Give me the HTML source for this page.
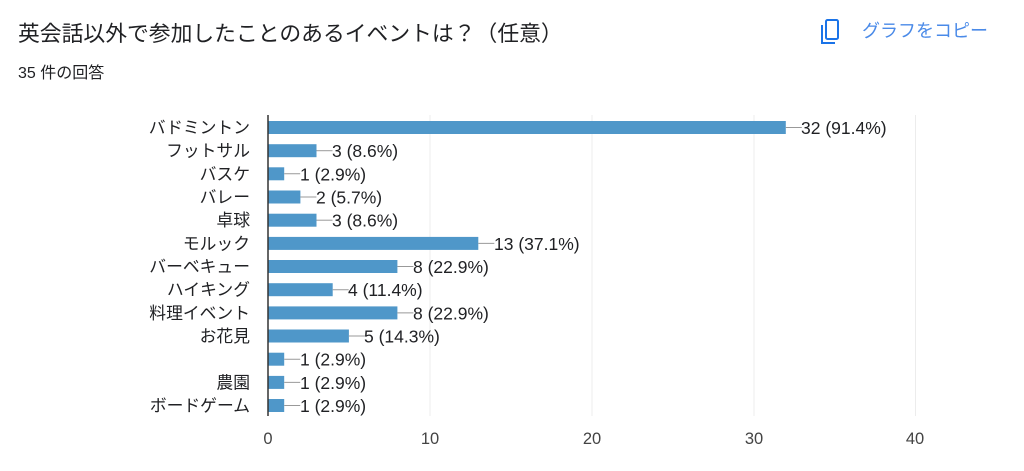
<!DOCTYPE html>
<html><head><meta charset="utf-8"><style>
body{margin:0;background:#fff;width:1024px;height:466px;overflow:hidden;font-family:"Liberation Sans","Noto Sans CJK JP",sans-serif}
</style></head><body>
<svg width="1024" height="466" xmlns="http://www.w3.org/2000/svg" font-family="Liberation Sans, Noto Sans CJK JP, sans-serif">
<text x="18" y="41" font-size="21.8" fill="#202124">英会話以外で参加したことのあるイベントは？（任意）</text>
<text x="18" y="78" font-size="16" fill="#202124">35 件の回答</text>
<g fill="none" stroke="#1a73e8" stroke-width="2"><rect x="826" y="20" width="12" height="19" rx="1.5"/><path d="M822 25 v18 h13"/></g>
<text x="862" y="37" font-size="18" fill="#4a8ae8">グラフをコピー</text>
<g stroke="#ececec" stroke-width="1">
<line x1="430" y1="115" x2="430" y2="416"/><line x1="592" y1="115" x2="592" y2="416"/><line x1="754" y1="115" x2="754" y2="416"/><line x1="915.5" y1="115" x2="915.5" y2="416"/>
</g>
<g font-size="16.8" fill="#202124" text-anchor="end">
<text x="250" y="133.5">バドミントン</text>
<text x="250" y="156.7">フットサル</text>
<text x="250" y="179.8">バスケ</text>
<text x="250" y="203">バレー</text>
<text x="250" y="226.2">卓球</text>
<text x="250" y="249.4">モルック</text>
<text x="250" y="272.5">バーベキュー</text>
<text x="250" y="295.7">ハイキング</text>
<text x="250" y="318.9">料理イベント</text>
<text x="250" y="342">お花見</text>
<text x="250" y="388.4">農園</text>
<text x="250" y="411.5">ボードゲーム</text>
</g>
<g fill="#4f97c9">
<rect x="268" y="121" width="517.8" height="13"/>
<rect x="268" y="144.2" width="48.5" height="13"/>
<rect x="268" y="167.3" width="16.2" height="13"/>
<rect x="268" y="190.5" width="32.4" height="13"/>
<rect x="268" y="213.7" width="48.5" height="13"/>
<rect x="268" y="236.9" width="210.3" height="13"/>
<rect x="268" y="260" width="129.4" height="13"/>
<rect x="268" y="283.2" width="64.7" height="13"/>
<rect x="268" y="306.4" width="129.4" height="13"/>
<rect x="268" y="329.5" width="80.9" height="13"/>
<rect x="268" y="352.7" width="16.2" height="13"/>
<rect x="268" y="375.9" width="16.2" height="13"/>
<rect x="268" y="399" width="16.2" height="13"/>
</g>
<g stroke="#999" stroke-width="1">
<line x1="785.8" y1="127.5" x2="801.8" y2="127.5"/>
<line x1="316.5" y1="150.7" x2="332.5" y2="150.7"/>
<line x1="284.2" y1="173.8" x2="300.2" y2="173.8"/>
<line x1="300.4" y1="197" x2="316.4" y2="197"/>
<line x1="316.5" y1="220.2" x2="332.5" y2="220.2"/>
<line x1="478.3" y1="243.4" x2="494.3" y2="243.4"/>
<line x1="397.4" y1="266.5" x2="413.4" y2="266.5"/>
<line x1="332.7" y1="289.7" x2="348.7" y2="289.7"/>
<line x1="397.4" y1="312.9" x2="413.4" y2="312.9"/>
<line x1="348.9" y1="336" x2="364.9" y2="336"/>
<line x1="284.2" y1="359.2" x2="300.2" y2="359.2"/>
<line x1="284.2" y1="382.4" x2="300.2" y2="382.4"/>
<line x1="284.2" y1="405.5" x2="300.2" y2="405.5"/>
</g>
<g font-size="17.5" fill="#202124">
<text x="801" y="134">32 (91.4%)</text>
<text x="332" y="157.2">3 (8.6%)</text>
<text x="300" y="180.3">1 (2.9%)</text>
<text x="316" y="203.5">2 (5.7%)</text>
<text x="332" y="226.7">3 (8.6%)</text>
<text x="494" y="249.9">13 (37.1%)</text>
<text x="413" y="273">8 (22.9%)</text>
<text x="348" y="296.2">4 (11.4%)</text>
<text x="413" y="319.4">8 (22.9%)</text>
<text x="364" y="342.5">5 (14.3%)</text>
<text x="300" y="365.7">1 (2.9%)</text>
<text x="300" y="388.9">1 (2.9%)</text>
<text x="300" y="412">1 (2.9%)</text>
</g>
<line x1="268" y1="115" x2="268" y2="416" stroke="#333" stroke-width="1.5"/>
<g font-size="16.5" fill="#444" text-anchor="middle">
<text x="268" y="444">0</text><text x="430" y="444">10</text><text x="592" y="444">20</text><text x="754" y="444">30</text><text x="915" y="444">40</text>
</g>
</svg>
</body></html>
